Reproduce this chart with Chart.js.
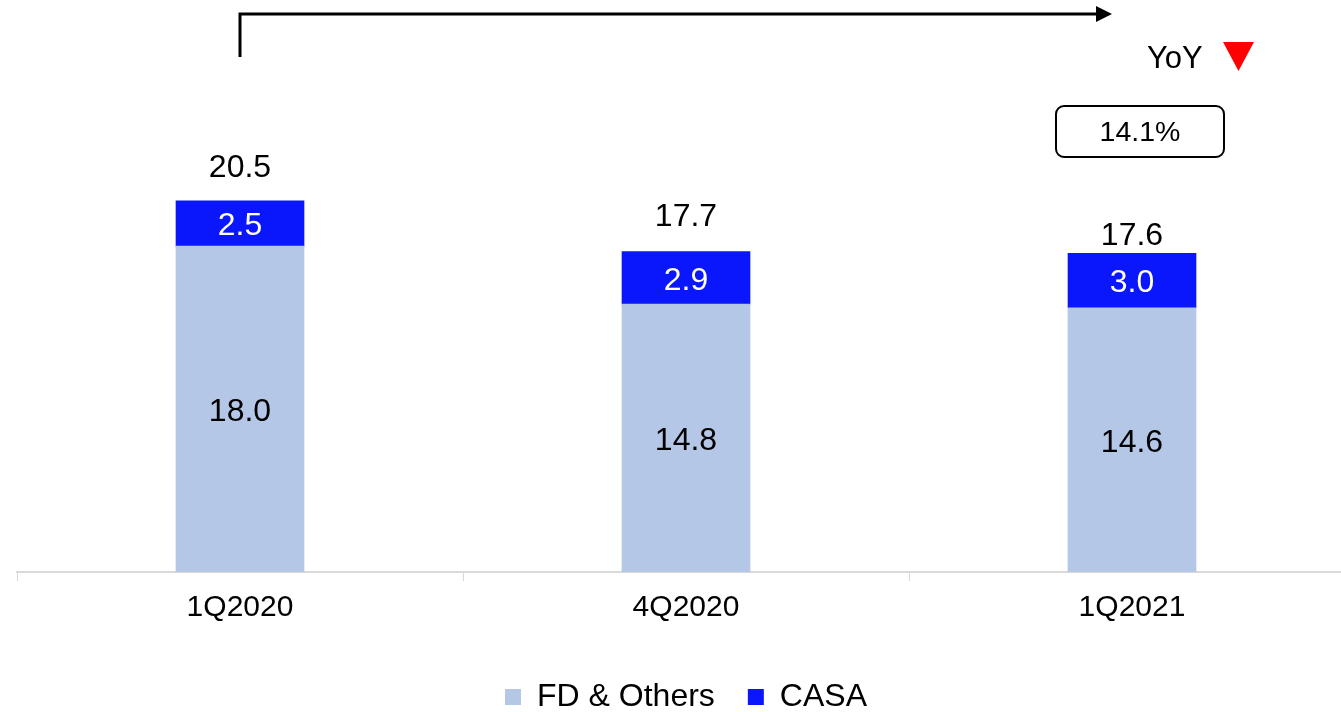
<!DOCTYPE html>
<html>
<head>
<meta charset="utf-8">
<script src="https://cdn.jsdelivr.net/npm/chart.js@4.4.1/dist/chart.umd.min.js"></script>
<style>
  html, body { margin: 0; padding: 0; background: #fff; overflow: hidden; }
  #wrap { width: 1390px; height: 723px; }
</style>
</head>
<body>
<div id="wrap"><canvas id="c" width="1390" height="723"></canvas></div>
<script>
const categories = ['1Q2020', '4Q2020', '1Q2021'];
const fdOthers = [18.0, 14.8, 14.6];
const casa = [2.5, 2.9, 3.0];
const totals = [20.5, 17.7, 17.6];
const yoyLabel = 'YoY';
const yoyValue = '14.1%';

const FONT = '"Liberation Sans", Arial, sans-serif';
const totalOffsets = [33, 34, 17];

const labelPlugin = {
  id: 'labels',
  afterDatasetsDraw(chart) {
    const ctx = chart.ctx;
    ctx.save();
    ctx.textAlign = 'center';
    ctx.textBaseline = 'middle';
    ctx.font = '32px ' + FONT;
    chart.data.datasets.forEach((ds, di) => {
      const meta = chart.getDatasetMeta(di);
      meta.data.forEach((bar, i) => {
        const top = bar.y, bottom = bar.base;
        ctx.fillStyle = di === 0 ? '#000' : '#fff';
        ctx.fillText(ds.data[i].toFixed(1), bar.x, (top + bottom) / 2 + 3);
      });
    });
    const meta1 = chart.getDatasetMeta(1);
    const ys = chart.scales.y;
    ctx.fillStyle = '#000';
    totals.forEach((t, i) => {
      const x = meta1.data[i].x;
      const yTop = ys.getPixelForValue(fdOthers[i] + casa[i]);
      ctx.fillText(t.toFixed(1), x, yTop - totalOffsets[i]);
    });
    ctx.restore();
  }
};

const annoPlugin = {
  id: 'anno',
  afterDraw(chart) {
    const ctx = chart.ctx;
    const xs = chart.scales.x;
    const x0 = xs.getPixelForValue(0);
    ctx.save();
    // arrow
    ctx.strokeStyle = '#000';
    ctx.lineWidth = 3;
    ctx.beginPath();
    ctx.moveTo(x0, 57);
    ctx.lineTo(x0, 14);
    ctx.lineTo(1098, 14);
    ctx.stroke();
    ctx.fillStyle = '#000';
    ctx.beginPath();
    ctx.moveTo(1096, 6);
    ctx.lineTo(1112, 14);
    ctx.lineTo(1096, 22);
    ctx.closePath();
    ctx.fill();
    // YoY
    ctx.font = '31px ' + FONT;
    ctx.textAlign = 'left';
    ctx.textBaseline = 'middle';
    ctx.fillText(yoyLabel, 1147, 59);
    ctx.fillStyle = '#ff0000';
    ctx.beginPath();
    ctx.moveTo(1223, 42);
    ctx.lineTo(1254, 42);
    ctx.lineTo(1238.5, 71);
    ctx.closePath();
    ctx.fill();
    // box
    const bx = 1056, by = 106, bw = 168, bh = 51, r = 8;
    ctx.strokeStyle = '#000';
    ctx.lineWidth = 2;
    ctx.beginPath();
    ctx.roundRect(bx, by, bw, bh, r);
    ctx.stroke();
    ctx.fillStyle = '#000';
    ctx.textAlign = 'center';
    ctx.font = '28.5px ' + FONT;
    ctx.fillText(yoyValue, bx + bw / 2, by + bh / 2 + 2);
    ctx.restore();
  }
};

new Chart(document.getElementById('c'), {
  type: 'bar',
  data: {
    labels: categories,
    datasets: [
      { label: 'FD & Others', data: fdOthers, backgroundColor: '#b4c7e7', barThickness: 128 },
      { label: 'CASA', data: casa, backgroundColor: '#0a16fc', barThickness: 128 }
    ]
  },
  options: {
    responsive: false,
    animation: false,
    layout: { padding: { left: 17, right: 35, top: 29, bottom: 0 } },
    plugins: {
      legend: {
        position: 'bottom',
        labels: {
          boxWidth: 16, boxHeight: 16, padding: 33,
          color: '#000',
          font: { size: 32, family: FONT }
        }
      },
      tooltip: { enabled: false }
    },
    scales: {
      x: {
        stacked: true,
        grid: { drawOnChartArea: false, drawTicks: true, tickLength: 9, color: '#d9d9d9', offset: true },
        border: { color: '#d9d9d9', width: 2 },
        ticks: { color: '#000', font: { size: 30, family: FONT }, padding: 9 },
        afterFit(scale) { scale.height += 13; }
      },
      y: {
        stacked: true,
        display: false,
        min: 0,
        max: 30
      }
    }
  },
  plugins: [labelPlugin, annoPlugin]
});
</script>
</body>
</html>
